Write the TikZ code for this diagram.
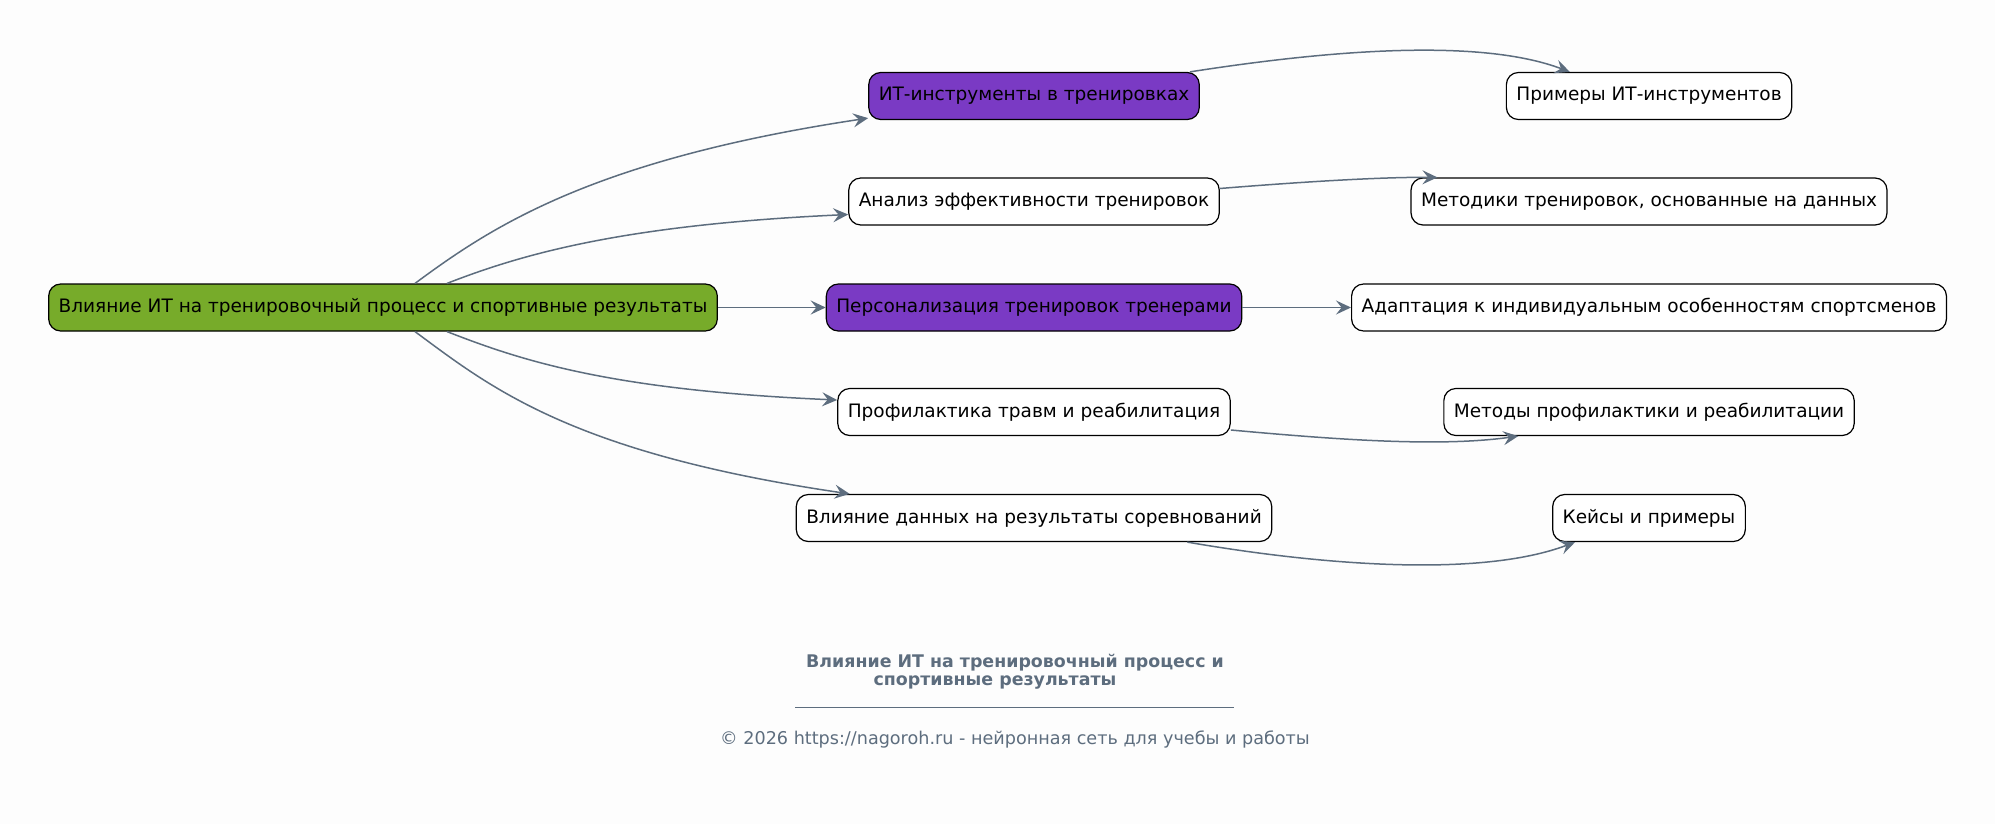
\documentclass[tikz,border=0pt]{standalone}
\usepackage{fontspec}
\setmainfont{DejaVu Sans}
\usetikzlibrary{arrows.meta}
\definecolor{bgcol}{HTML}{FDFDFD}
\definecolor{linkcol}{HTML}{5D6D7E}
\definecolor{rootcol}{HTML}{77AB2A}
\definecolor{keycol}{HTML}{7A3AC4}
\begin{document}
\begin{tikzpicture}[x=0.5pt,y=-0.5pt,
    box/.style={draw=black, fill=white, rounded corners=6pt, line width=0.6pt,
      minimum height=23.5pt, inner xsep=5pt, font=\fontsize{9.25}{11}\selectfont},
    rootbox/.style={box, fill=rootcol},
    keybox/.style={box, fill=keycol},
    link/.style={draw=linkcol, line width=0.75pt,
      -{Stealth[length=7.5pt,width=7pt,inset=2.8pt]}}]
  % Canvas
  \fill[bgcol] (0,0) rectangle (1995,824);
  \useasboundingbox (0,0) rectangle (1995,824);

  % Root
  \node[rootbox] (root) at (383,307.5) {Влияние ИТ на тренировочный процесс и спортивные результаты};

  % Middle column
  \node[keybox] (tools) at (1034,96) {ИТ-инструменты в тренировках};
  \node[box] (analysis) at (1034,201.5) {Анализ эффективности тренировок};
  \node[keybox] (personal) at (1034,307.5) {Персонализация тренировок тренерами};
  \node[box] (injury) at (1034,412) {Профилактика травм и реабилитация};
  \node[box] (impact) at (1034,518) {Влияние данных на результаты соревнований};

  % Right column
  \node[box] (examples) at (1649,96) {Примеры ИТ-инструментов};
  \node[box] (methods) at (1649,201.5) {Методики тренировок, основанные на данных};
  \node[box] (adapt) at (1649,307.5) {Адаптация к индивидуальным особенностям спортсменов};
  \node[box] (rehab) at (1649,412) {Методы профилактики и реабилитации};
  \node[box] (cases) at (1649,518) {Кейсы и примеры};

  % Root to middle
  \draw[link] ([xshift=16pt]root.north) .. controls (490,228) and (590,160) .. ([yshift=1pt]tools.south west);
  \draw[link] ([xshift=32pt]root.north) .. controls (520,255) and (620,225) .. ([yshift=-6.5pt]analysis.west);
  \draw[link] (root.east) -- (personal.west);
  \draw[link] ([xshift=32pt]root.south) .. controls (520,360) and (608,390) .. ([yshift=6pt]injury.west);
  \draw[link] ([xshift=16pt]root.south) .. controls (490,387) and (571,453) .. ([xshift=27pt]impact.north west);

  % Middle to right
  \draw[link] ([xshift=-5pt]tools.north east) .. controls (1330,50) and (1480,38) .. ([xshift=32pt]examples.north west);
  \draw[link] ([yshift=6.5pt]analysis.east) .. controls (1300,182) and (1380,177) .. ([xshift=13.5pt]methods.north west);
  \draw[link] (personal.east) -- (adapt.west);
  \draw[link] ([yshift=-9pt]injury.east) .. controls (1340,440) and (1440,447) .. ([xshift=37.5pt]rehab.south west);
  \draw[link] ([xshift=-42.5pt]impact.south east) .. controls (1320,565) and (1480,578) .. ([xshift=11.5pt]cases.south west);

  % Caption
  \node[font=\bfseries\fontsize{8.7}{9}\selectfont, text=linkcol, align=center] (title) at (1015,672)
    {Влияние ИТ на тренировочный процесс и\\спортивные результаты\hspace*{20pt}};
  \draw[linkcol, line width=0.4pt] (795,707) -- (1234,707);
  \node[font=\fontsize{8.8}{9}\selectfont, text=linkcol] (copy) at (1015,739)
    {© 2026 https://nagoroh.ru - нейронная сеть для учебы и работы};
\end{tikzpicture}
\end{document}
